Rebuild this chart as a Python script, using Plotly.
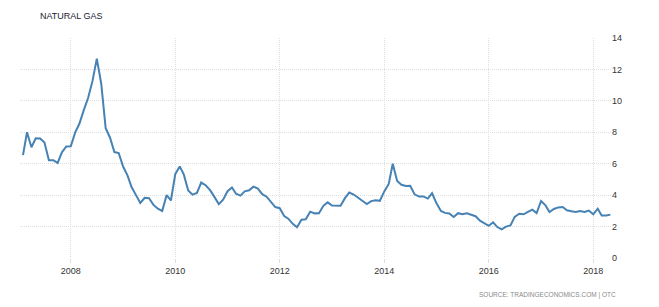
import pandas as pd
import plotly.graph_objects as go

# Monthly natural gas prices (USD/MMBtu), Jan 2007 - Apr 2018
p2007 = [6.55, 8.00, 7.05, 7.62, 7.61, 7.35, 6.22, 6.22, 6.05, 6.74, 7.10, 7.11]
p2008 = [7.99, 8.54, 9.41, 10.18, 11.27, 12.69, 11.09, 8.26, 7.67, 6.74, 6.68, 5.82]
p2009 = [5.24, 4.52, 4.00, 3.50, 3.83, 3.80, 3.38, 3.14, 2.99, 4.00, 3.66, 5.35]
p2010 = [5.83, 5.32, 4.29, 4.03, 4.14, 4.80, 4.63, 4.32, 3.89, 3.43, 3.71, 4.25]
p2011 = [4.49, 4.09, 3.97, 4.24, 4.31, 4.54, 4.42, 4.06, 3.90, 3.57, 3.24, 3.17]
p2012 = [2.67, 2.50, 2.17, 1.95, 2.43, 2.46, 2.95, 2.84, 2.85, 3.32, 3.54, 3.34]
p2013 = [3.33, 3.33, 3.81, 4.17, 4.04, 3.83, 3.62, 3.43, 3.62, 3.68, 3.64, 4.24]
p2014 = [4.71, 6.00, 4.90, 4.66, 4.58, 4.59, 4.05, 3.91, 3.92, 3.78, 4.12, 3.48]
p2015 = [2.99, 2.87, 2.83, 2.61, 2.85, 2.78, 2.84, 2.77, 2.66, 2.38, 2.20, 2.05]
p2016 = [2.27, 1.97, 1.82, 2.00, 2.07, 2.62, 2.82, 2.78, 2.93, 3.08, 2.86, 3.63]
p2017 = [3.35, 2.93, 3.12, 3.22, 3.25, 3.04, 2.97, 2.93, 2.99, 2.93, 3.02, 2.78]
p2018 = [3.14, 2.70, 2.70, 2.76]

values = p2007 + p2008 + p2009 + p2010 + p2011 + p2012 + p2013 + p2014 + p2015 + p2016 + p2017 + p2018
# points are plotted at month end
dates = pd.date_range("2007-02-01", periods=len(values), freq="MS")

x_ticks = ["2008-01-01", "2010-01-01", "2012-01-01", "2014-01-01", "2016-01-01", "2018-01-01"]
x_ticktext = ["2008", "2010", "2012", "2014", "2016", "2018"]
y_ticks = [0, 2, 4, 6, 8, 10, 12, 14]

FONT = "Liberation Sans, Arial, sans-serif"
GRID = "#dedede"
DASH = "1px,1px"

fig = go.Figure()
fig.add_trace(go.Scatter(
    x=dates, y=values, mode="lines",
    line=dict(color="#4682b4", width=2),
    hoverinfo="x+y", showlegend=False,
))

fig.update_layout(
    width=659, height=307,
    margin=dict(l=20, r=48, t=38, b=49),
    paper_bgcolor="white", plot_bgcolor="white",
    font=dict(family=FONT, size=9, color="#333333"),
    title=dict(text="NATURAL GAS", x=40 / 659, xanchor="left", y=1 - 16 / 307, yanchor="middle",
               font=dict(family=FONT, size=9, color="#222233")),
    xaxis=dict(
        type="date", range=["2007-01-11", "2018-05-05"],
        tickvals=x_ticks, ticktext=x_ticktext,
        showgrid=True, gridcolor=GRID, griddash=DASH, gridwidth=1,
        ticks="outside", ticklen=4, tickcolor=GRID,
        showline=False, zeroline=False,
        tickfont=dict(family=FONT, size=9, color="#333333"),
    ),
    yaxis=dict(
        range=[0, 14], tickvals=y_ticks, side="right",
        showgrid=True, gridcolor=GRID, griddash=DASH, gridwidth=1,
        zeroline=False, showline=False, ticks="",
        tickfont=dict(family=FONT, size=9, color="#333333"),
    ),
    annotations=[dict(
        text="SOURCE: TRADINGECONOMICS.COM | OTC",
        xref="paper", yref="paper", x=(617.7 - 20) / 591, y=(257.5 - 294) / 220,
        xanchor="right", yanchor="middle", showarrow=False,
        font=dict(family=FONT, size=6.5, color="#8a8a8a"),
    )],
)

fig.write_html("out.html")
